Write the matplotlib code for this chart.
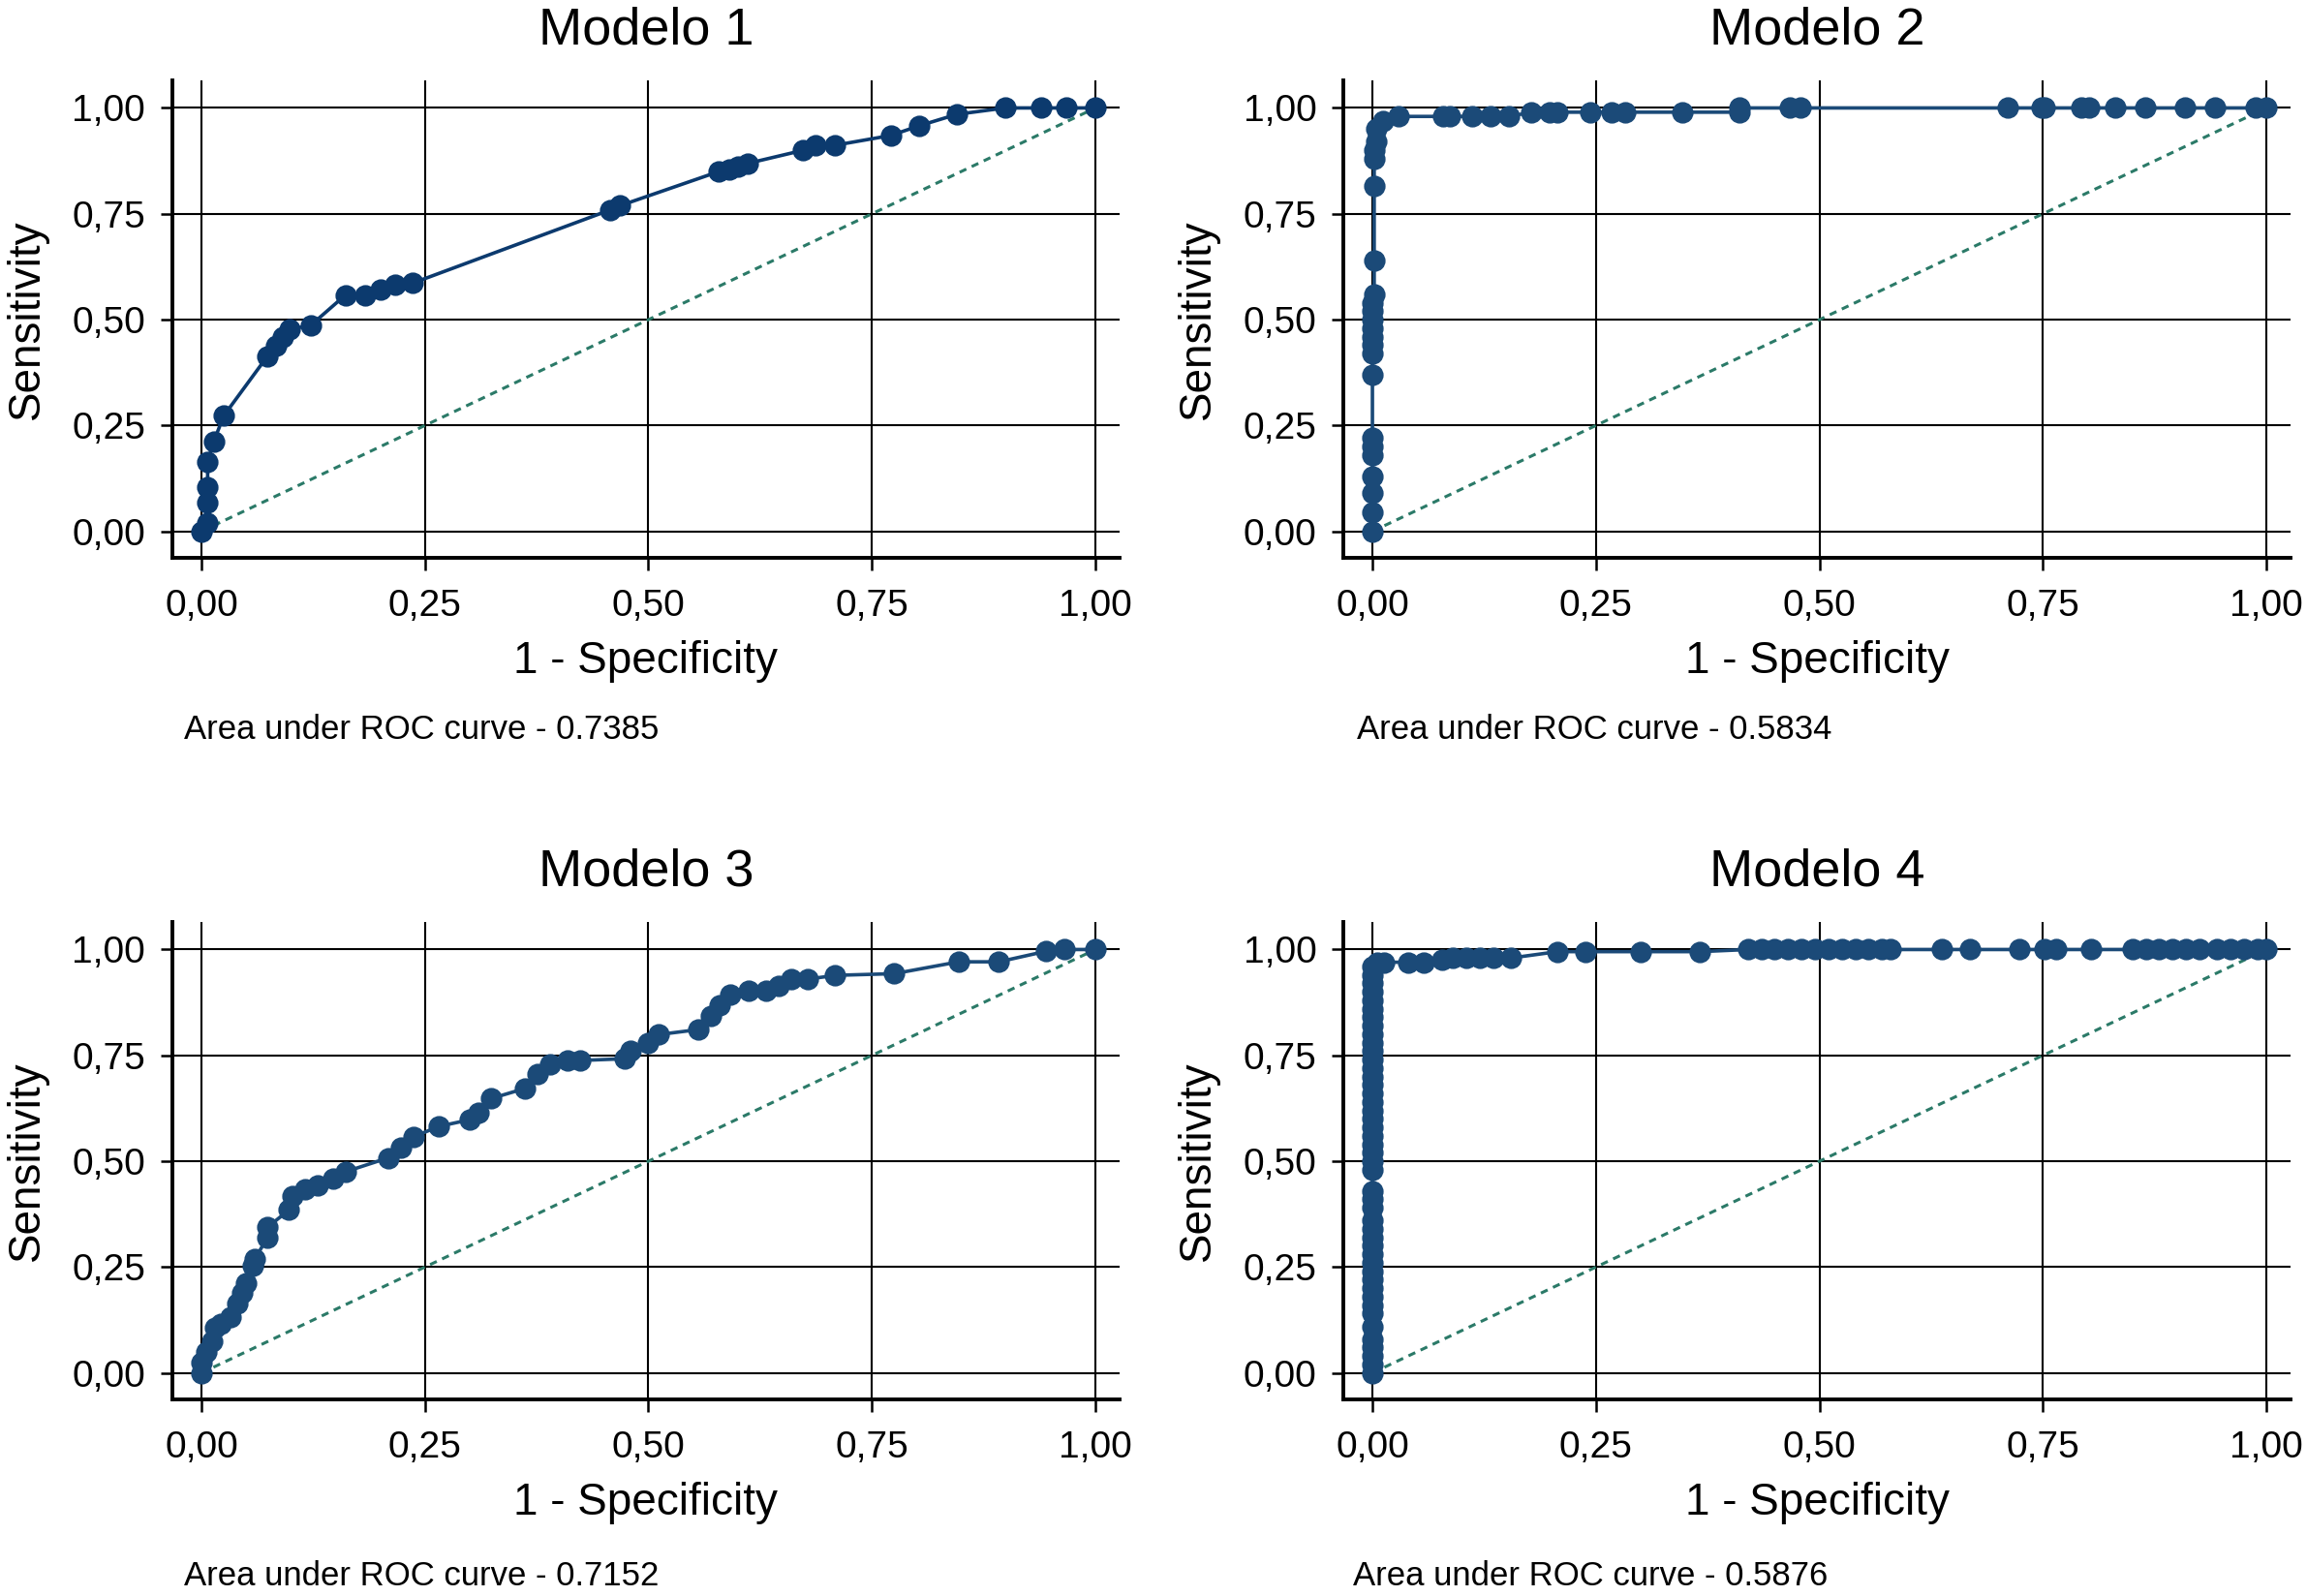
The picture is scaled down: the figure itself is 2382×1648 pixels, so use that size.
import matplotlib
matplotlib.use("Agg")
from matplotlib import pyplot as plt
from matplotlib.ticker import FixedLocator, FuncFormatter

plt.rcParams['font.family'] = ['Liberation Sans', 'DejaVu Sans']

# ROC points (1 - specificity, sensitivity)
fpr1 = [0.0, 0.007, 0.007, 0.007, 0.007, 0.014, 0.025, 0.074, 0.083, 0.091,
        0.099, 0.122, 0.161, 0.183, 0.200, 0.217, 0.236, 0.457, 0.468, 0.579,
        0.590, 0.600, 0.611, 0.673, 0.687, 0.709, 0.771, 0.803, 0.845, 0.899,
        0.939, 0.967, 1.0]
tpr1 = [0.0, 0.020, 0.068, 0.104, 0.165, 0.213, 0.273, 0.414, 0.438, 0.458,
        0.478, 0.486, 0.558, 0.558, 0.570, 0.582, 0.586, 0.759, 0.769, 0.850,
        0.855, 0.862, 0.869, 0.900, 0.912, 0.912, 0.935, 0.958, 0.985, 1.0,
        1.0, 1.0, 1.0]

fpr2 = [0.0, 0.0, 0.0, 0.0, 0.0, 0.0, 0.0, 0.0, 0.0, 0.0, 0.0, 0.0, 0.0,
        0.0, 0.0, 0.002, 0.002, 0.002, 0.002, 0.002, 0.004, 0.004, 0.012,
        0.029, 0.079, 0.087, 0.112, 0.132, 0.153, 0.178, 0.198, 0.207, 0.244,
        0.267, 0.283, 0.347, 0.410, 0.410, 0.467, 0.479, 0.711, 0.748, 0.752,
        0.793, 0.802, 0.831, 0.864, 0.909, 0.942, 0.988, 1.0]
tpr2 = [0.0, 0.045, 0.090, 0.130, 0.180, 0.200, 0.220, 0.370, 0.420, 0.440,
        0.460, 0.480, 0.500, 0.520, 0.540, 0.560, 0.640, 0.815, 0.880, 0.900,
        0.920, 0.950, 0.970, 0.980, 0.980, 0.980, 0.980, 0.980, 0.980, 0.990,
        0.990, 0.990, 0.990, 0.990, 0.990, 0.990, 0.990, 1.0, 1.0, 1.0, 1.0,
        1.0, 1.0, 1.0, 1.0, 1.0, 1.0, 1.0, 1.0, 1.0, 1.0]

fpr3 = [0.0, 0.0, 0.005, 0.012, 0.015, 0.022, 0.033, 0.040, 0.046, 0.050,
        0.057, 0.060, 0.074, 0.074, 0.098, 0.102, 0.116, 0.130, 0.147, 0.161,
        0.209, 0.223, 0.237, 0.265, 0.300, 0.310, 0.324, 0.362, 0.376, 0.390,
        0.410, 0.424, 0.473, 0.480, 0.500, 0.511, 0.556, 0.570, 0.580, 0.591,
        0.612, 0.632, 0.646, 0.660, 0.678, 0.709, 0.775, 0.847, 0.892, 0.945,
        0.965, 1.0]
tpr3 = [0.0, 0.025, 0.050, 0.074, 0.107, 0.115, 0.131, 0.164, 0.189, 0.213,
        0.254, 0.270, 0.320, 0.344, 0.385, 0.418, 0.434, 0.443, 0.459, 0.475,
        0.508, 0.533, 0.557, 0.582, 0.598, 0.615, 0.648, 0.672, 0.705, 0.730,
        0.738, 0.738, 0.742, 0.762, 0.779, 0.799, 0.811, 0.844, 0.869, 0.893,
        0.902, 0.902, 0.914, 0.930, 0.930, 0.939, 0.943, 0.971, 0.971, 0.996,
        1.0, 1.0]

fpr4 = [0.0, 0.0, 0.0, 0.0, 0.0, 0.0, 0.0, 0.0, 0.0, 0.0, 0.0, 0.0, 0.0,
        0.0, 0.0, 0.0, 0.0, 0.0, 0.0, 0.0, 0.0, 0.0, 0.0, 0.0, 0.0, 0.0, 0.0,
        0.0, 0.0, 0.0, 0.0, 0.0, 0.0, 0.0, 0.0, 0.0, 0.0, 0.0, 0.0, 0.0, 0.0,
        0.0, 0.0, 0.0, 0.0, 0.0,
        0.005, 0.013, 0.040, 0.057, 0.078, 0.090, 0.105, 0.120, 0.135, 0.155,
        0.207, 0.238, 0.300, 0.366, 0.420, 0.435, 0.450, 0.465, 0.480, 0.495,
        0.510, 0.525, 0.540, 0.555, 0.570, 0.580, 0.637, 0.668, 0.724, 0.752,
        0.765, 0.804, 0.850, 0.865, 0.880, 0.895, 0.910, 0.925, 0.945, 0.960,
        0.975, 0.990, 1.0]
tpr4 = [0.0, 0.02, 0.04, 0.06, 0.08, 0.11, 0.14, 0.16, 0.18, 0.20, 0.22,
        0.24, 0.26, 0.28, 0.30, 0.32, 0.34, 0.36, 0.39, 0.41, 0.43, 0.48,
        0.50, 0.52, 0.54, 0.56, 0.58, 0.60, 0.62, 0.64, 0.66, 0.68, 0.70,
        0.72, 0.74, 0.76, 0.78, 0.80, 0.82, 0.84, 0.86, 0.88, 0.90, 0.92,
        0.94, 0.96,
        0.970, 0.970, 0.970, 0.970, 0.975, 0.980, 0.980, 0.980, 0.980, 0.980,
        0.995, 0.995, 0.995, 0.995, 1.0, 1.0, 1.0, 1.0, 1.0, 1.0, 1.0, 1.0,
        1.0, 1.0, 1.0, 1.0, 1.0, 1.0, 1.0, 1.0, 1.0, 1.0, 1.0, 1.0, 1.0, 1.0,
        1.0, 1.0, 1.0, 1.0, 1.0, 1.0, 1.0]

titles = ["Modelo 1", "Modelo 2", "Modelo 3", "Modelo 4"]
auc_text = ["Area under ROC curve - 0.7385", "Area under ROC curve - 0.5834",
            "Area under ROC curve - 0.7152", "Area under ROC curve - 0.5876"]
ticks = [0.0, 0.25, 0.5, 0.75, 1.0]
diag = [0.0, 1.0]

curves = [(fpr1, tpr1), (fpr2, tpr2), (fpr3, tpr3), (fpr4, tpr4)]
curve_colors = ['#0c3a6e', '#1b4a78', '#1b4a78', '#1b4a78']

# axes boxes in figure fraction [left, bottom, width, height]
boxes = [[0.0747, 0.6505, 0.4106, 0.2991],
         [0.5823, 0.6505, 0.4106, 0.2991],
         [0.0747, 0.1232, 0.4106, 0.2991],
         [0.5823, 0.1232, 0.4106, 0.2991]]
auc_pos = [(0.0798, 0.543), (0.5880, 0.543), (0.0798, 0.0127), (0.5865, 0.0127)]

comma = FuncFormatter(lambda v, p: ("%.2f" % v).replace(".", ","))

fig = plt.figure(figsize=(11.91, 8.24), dpi=200)

for i in range(4):
    ax = fig.add_axes(boxes[i])
    fx, ty = curves[i]
    ax.plot(diag, diag, color='#2b7a68', lw=1.1, ls=(0, (2.5, 2)), zorder=3)
    ax.plot(fx, ty, color=curve_colors[i], lw=1.3, marker='o', ms=7,
            mec=curve_colors[i], mfc=curve_colors[i], zorder=4)

    ax.set_xlim(-0.0325, 1.027)
    ax.set_ylim(-0.0625, 1.065)
    ax.xaxis.set_major_locator(FixedLocator(ticks))
    ax.yaxis.set_major_locator(FixedLocator(ticks))
    ax.xaxis.set_major_formatter(comma)
    ax.yaxis.set_major_formatter(comma)
    ax.grid(True, color='black', lw=0.75)
    ax.set_axisbelow(True)
    for s in ['top', 'right']:
        ax.spines[s].set_visible(False)
    for s in ['left', 'bottom']:
        ax.spines[s].set_linewidth(1.4)
    ax.tick_params(direction='out', length=4.5, width=0.9, labelsize=14)
    ax.tick_params(axis='x', pad=7)
    ax.tick_params(axis='y', pad=5.5)

    ax.set_xlabel("1 - Specificity", fontsize=16.5)
    ax.set_ylabel("Sensitivity", fontsize=16.5)
    ax.xaxis.set_label_coords(0.5, -0.172)
    ax.yaxis.set_label_coords(-0.131, 0.5)
    ax.text(0.5, 1.105, titles[i], transform=ax.transAxes, ha='center',
            va='center', fontsize=19.5)
    fig.text(auc_pos[i][0], auc_pos[i][1], auc_text[i], ha='left',
             va='center', fontsize=12.5)

fig.savefig("out.png", dpi=200, facecolor='white')
